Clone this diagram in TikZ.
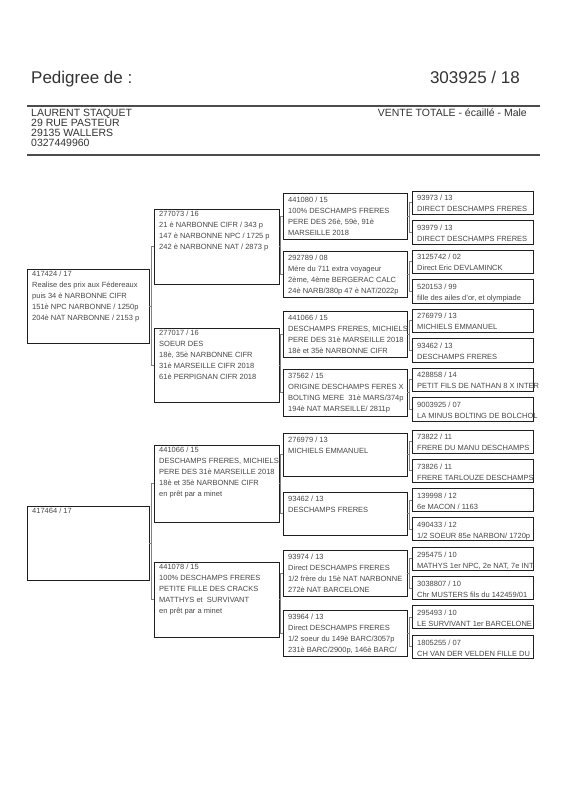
\documentclass[tikz,border=0pt]{standalone}
\usepackage{fontspec}
\setmainfont{Liberation Sans}
\newcommand\pedbox[7]{%
  \node[pbox, minimum width={#4-#2}, minimum height={#5-#3}] (#1) at (#2,#3) {};
  \node[ptxt] (#1t) at (#2+5,#3+#6) {#7};%
}
\newcommand\pedlink[3]{%
  \draw[link] (#2.west) -- ++(-2.6,0) coordinate (#1b) |- (#3.west);
  \draw[link] (#1.east) -- (#1.east -| #1b);%
}
\begin{document}
\begin{tikzpicture}[x=1pt,y=-1pt,
  pbox/.style={draw=black!88, line width=1pt, inner sep=0pt, outer sep=0pt, anchor=north west},
  ptxt/.style={anchor=north west, inner sep=0pt, align=left, text=black!72, font=\fontsize{7.5}{11}\selectfont},
  link/.style={draw=black!50, line width=0.8pt},
  rulestyle/.style={draw=black!70, line width=1.1pt},
  head/.style={inner sep=0pt, text=black!80},
  addr/.style={head, anchor=base west, font=\fontsize{10.5}{10}\selectfont}]
\useasboundingbox (0,0) rectangle (566,800);

% header
\node[head, anchor=base west, font=\fontsize{17}{20}\selectfont] (title) at (31,84) {Pedigree de :};
\node[head, anchor=base east, font=\fontsize{17}{20}\selectfont] (ring) at (520,84) {303925 / 18};
\draw[rulestyle] (27,106) -- (540,106);
\node[addr] (addr1) at (31,116) {LAURENT STAQUET};
\node[addr] (addr2) at (31,126) {29 RUE PASTEUR};
\node[addr] (addr3) at (31,136) {29135 WALLERS};
\node[addr] (addr4) at (31,146) {0327449960};
\node[head, anchor=base east, font=\fontsize{10.5}{10}\selectfont] (vente) at (527,116) {VENTE TOTALE - écaillé - Male};
\draw[rulestyle] (27,155) -- (540,155);

% generation 1
\pedbox{A}{27}{269}{149}{343}{1.5}{417424 / 17\\Realise des prix aux Fédereaux\\puis 34 è NARBONNE CIFR\\151è NPC NARBONNE / 1250p\\204è NAT NARBONNE / 2153 p}
\pedbox{B}{27}{506}{149}{580}{1.5}{417464 / 17}

% generation 2
\pedbox{C}{154}{209}{279}{284}{1.5}{277073 / 16\\21 è NARBONNE CIFR / 343 p\\147 è NARBONNE NPC / 1725 p\\242 è NARBONNE NAT / 2873 p}
\pedbox{D}{154}{328}{279}{402}{1.5}{277017 / 16\\SOEUR DES\\18è, 35è NARBONNE CIFR\\31è MARSEILLE CIFR 2018\\61è PERPIGNAN CIFR 2018}
\pedbox{E}{154}{445}{279}{522}{1.5}{441066 / 15\\DESCHAMPS FRERES, MICHIELS\\PERE DES 31è MARSEILLE 2018\\18è et 35è NARBONNE CIFR\\en prêt par a minet}
\pedbox{F}{154}{562}{279}{637}{1.5}{441078 / 15\\100\% DESCHAMPS FRERES\\PETITE FILLE DES CRACKS\\MATTHYS et \ SURVIVANT\\en prêt par a minet}

% generation 3
\pedbox{G}{283}{193}{407}{239}{4.3}{441080 / 15\\100\% DESCHAMPS FRERES\\PERE DES 26è, 59è, 91è\\MARSEILLE 2018}
\pedbox{H}{283}{251}{407}{297}{4.3}{292789 / 08\\Mère du 711 extra voyageur\\2ème, 4ème BERGERAC CALC\\24è NARB/380p 47 è NAT/2022p}
\pedbox{I}{283}{311}{407}{357}{4.3}{441066 / 15\\DESCHAMPS FRERES, MICHIELS\\PERE DES 31è MARSEILLE 2018\\18è et 35è NARBONNE CIFR}
\pedbox{J}{283}{369}{407}{416}{4.3}{37562 / 15\\ORIGINE DESCHAMPS FERES X\\BOLTING MERE \ 31è MARS/374p\\194è NAT MARSEILLE/ 2811p}
\pedbox{K}{283}{433}{407}{476}{4.3}{276979 / 13\\MICHIELS EMMANUEL}
\pedbox{L}{283}{492}{407}{535}{4.3}{93462 / 13\\DESCHAMPS FRERES}
\pedbox{M}{283}{550}{407}{596}{4.3}{93974 / 13\\Direct DESCHAMPS FRERES\\1/2 frère du 15è NAT NARBONNE\\272è NAT BARCELONE}
\pedbox{N}{283}{610}{407}{656}{4.3}{93964 / 13\\Direct DESCHAMPS FRERES\\1/2 soeur du 149è BARC/3057p\\231è BARC/2900p, 146è BARC/}

% generation 4
\pedbox{P1}{412}{191}{533}{214.5}{4.3}{93973 / 13\\DIRECT DESCHAMPS FRERES}
\pedbox{P2}{412}{220.5}{533}{244}{4.3}{93979 / 13\\DIRECT DESCHAMPS FRERES}
\pedbox{P3}{412}{250}{533}{273.5}{4.3}{3125742 / 02\\Direct Eric DEVLAMINCK}
\pedbox{P4}{412}{279.5}{533}{303}{4.3}{520153 / 99\\fille des ailes d'or, et olympiade}
\pedbox{P5}{412}{309}{533}{332.5}{4.3}{276979 / 13\\MICHIELS EMMANUEL}
\pedbox{P6}{412}{338.5}{533}{362}{4.3}{93462 / 13\\DESCHAMPS FRERES}
\pedbox{P7}{412}{368}{533}{391.5}{4.3}{428858 / 14\\PETIT FILS DE NATHAN 8 X INTER}
\pedbox{P8}{412}{397.5}{533}{421}{4.3}{9003925 / 07\\LA MINUS BOLTING DE BOLCHOL}
\pedbox{Q1}{412}{430}{533}{453}{4.3}{73822 / 11\\FRERE DU MANU DESCHAMPS}
\pedbox{Q2}{412}{459.3}{533}{482.3}{4.3}{73826 / 11\\FRERE TARLOUZE DESCHAMPS}
\pedbox{Q3}{412}{488.6}{533}{511.6}{4.3}{139998 / 12\\6e MACON / 1163}
\pedbox{Q4}{412}{517.9}{533}{540.9}{4.3}{490433 / 12\\1/2 SOEUR 85e NARBON/ 1720p}
\pedbox{Q5}{412}{547.2}{533}{570.2}{4.3}{295475 / 10\\MATHYS 1er NPC, 2e NAT, 7e INT}
\pedbox{Q6}{412}{576.5}{533}{599.5}{4.3}{3038807 / 10\\Chr MUSTERS fils du 142459/01}
\pedbox{Q7}{412}{605.8}{533}{628.8}{4.3}{295493 / 10\\LE SURVIVANT 1er BARCELONE}
\pedbox{Q8}{412}{635.1}{533}{658.1}{4.3}{1805255 / 07\\CH VAN DER VELDEN FILLE DU}

% connectors
\pedlink{A}{C}{D}
\pedlink{B}{E}{F}
\pedlink{C}{G}{H}
\pedlink{D}{I}{J}
\pedlink{E}{K}{L}
\pedlink{F}{M}{N}
\pedlink{G}{P1}{P2}
\pedlink{H}{P3}{P4}
\pedlink{I}{P5}{P6}
\pedlink{J}{P7}{P8}
\pedlink{K}{Q1}{Q2}
\pedlink{L}{Q3}{Q4}
\pedlink{M}{Q5}{Q6}
\pedlink{N}{Q7}{Q8}
\end{tikzpicture}
\end{document}
